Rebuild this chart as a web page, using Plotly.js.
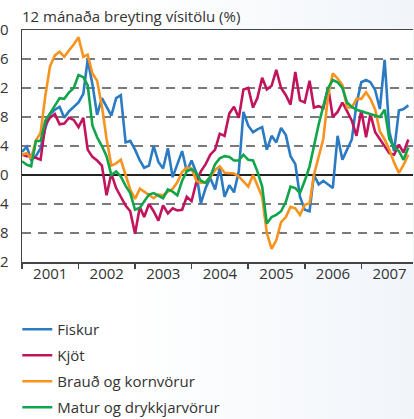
<!DOCTYPE html>
<html>
<head>
<meta charset="utf-8">
<script src="https://cdn.plot.ly/plotly-3.0.1.min.js"></script>
<style>
  html, body { margin: 0; padding: 0; overflow: hidden; }
  body { width: 414px; height: 419px; background: linear-gradient(to right, #ffffff 0%, #ffffff 30%, #f1f5fa 100%); }
  #chart { width: 414px; height: 419px; }
</style>
</head>
<body>
<div id="chart"></div>
<script>
// Monthly, Jan 2001 .. Nov 2007
const startYear = 2001;
const monthCount = 83;
const months = [];
for (let i = 0; i < monthCount; i++) {
  const y = startYear + Math.floor(i / 12);
  const m = (i % 12) + 1;
  months.push(y + '-' + (m < 10 ? '0' + m : m) + '-01');
}

const seriesNames = ['Fiskur', 'Kjöt', 'Brauð og kornvörur', 'Matur og drykkjarvörur'];

const fiskur = [
  3.2, 3.9, 2.1, 2.6, 3.7, 6.5, 8.4, 9.0, 9.4, 7.9, 8.8, 9.4,
  10.0, 11.2, 15.9, 12.5, 8.3, 10.6, 9.5, 8.2, 10.6, 11.0, 4.5, 4.7,
  3.5, 2.0, 1.0, 1.3, 4.0, 1.8, 0.9, 3.7, -0.3, 1.5, 3.3, 0.5,
  2.0, 0.3, -3.9, -1.8, -0.4, -2.0, 1.0, -3.0, -1.4, -2.4, 0.5, 8.7,
  6.8, 5.9, 6.3, 6.6, 3.5, 5.4, 4.5, 6.5, 5.5, 2.6, 1.5, -3.0,
  -4.8, -5.0, 0.0, -1.3, -0.8, -1.3, -1.8, 5.4, 2.1, 3.5, 4.9, 9.8,
  12.8, 13.1, 12.8, 11.7, 9.1, 15.9, 6.0, 3.3, 8.9, 9.1, 9.6
];

const kjot = [
  2.8, 2.6, 2.6, 2.4, 2.1, 7.0, 7.9, 8.4, 7.0, 7.1, 7.9, 7.6,
  6.6, 7.9, 3.5, 2.5, 2.0, 1.3, -2.8, 0.2, -1.8, -3.0, -4.2, -5.0,
  -8.1, -4.4, -5.8, -4.0, -5.0, -6.3, -4.2, -5.3, -4.6, -4.9, -4.8, -3.0,
  -3.6, -1.0, 0.5, 1.5, 2.8, 3.5, 5.7, 5.4, 8.5, 9.4, 7.9, 11.8,
  12.0, 9.3, 10.6, 13.4, 11.8, 12.3, 14.5, 12.0, 11.0, 9.7, 14.2, 10.3,
  10.0, 13.0, 9.3, 9.5, 9.2, 12.1, 8.0, 8.7, 10.0, 8.8, 7.5, 5.4,
  8.9, 5.2, 8.4, 5.9, 5.0, 4.0, 3.0, 2.8, 4.2, 3.1, 4.9
];

const braud = [
  2.8, 3.0, 2.3, 4.8, 5.8, 11.0, 15.0, 16.5, 17.0, 16.3, 17.2, 18.0,
  19.0, 16.3, 16.6, 14.0, 13.0, 9.5, 5.0, 1.3, 1.6, 2.1, 0.0, -2.0,
  -3.3, -1.9, -2.3, -2.7, -3.2, -2.7, -2.8, -2.3, -1.9, -1.0, 0.4, 1.0,
  0.9, -0.8, -1.1, -1.0, -0.3, 0.7, 1.2, 0.3, 0.3, 0.2, -0.2, -0.9,
  -1.6, 0.0, -1.5, -3.0, -8.0, -10.2, -9.0, -6.5, -5.8, -4.4, -4.6, -5.5,
  -4.1, -3.9, 0.0, 2.5, 5.0, 11.0, 14.0, 13.3, 12.4, 9.3, 9.3, 10.5,
  10.5, 11.4, 10.5, 9.0, 6.0, 4.9, 3.5, 1.7, 0.3, 1.4, 2.8
];

const matur = [
  1.9, 1.4, 1.2, 4.7, 4.7, 7.5, 8.5, 9.5, 10.6, 10.5, 11.4, 12.0,
  13.8, 13.5, 12.4, 6.8, 5.2, 4.0, 2.6, 0.0, 0.5, -0.2, -1.5, -2.5,
  -4.8, -4.5, -3.7, -2.7, -2.5, -2.9, -3.2, -2.0, -2.3, -2.8, -0.8, 0.5,
  0.8, 0.3, -0.8, -1.1, -0.2, 1.5, 2.3, 2.6, 2.5, 2.0, 2.0, 2.8,
  2.1, 2.0, 0.5, -1.6, -6.7, -5.8, -5.5, -5.0, -3.7, -1.6, -1.8, -2.5,
  -0.8, 1.2, 4.0, 7.0, 9.5, 12.0, 13.1, 12.8, 12.0, 10.0, 9.4, 9.0,
  8.8, 8.6, 8.4, 8.2, 8.0, 9.0, 5.0, 3.8, 3.3, 2.1, 3.8
];

const colors = ['#2b7bc2', '#c1145c', '#f7931e', '#10a44b'];
const values = [fiskur, kjot, braud, matur];

const traces = values.map((v, i) => ({
  type: 'scatter',
  mode: 'lines',
  x: months,
  y: v,
  name: seriesNames[i],
  legendgroup: 'g' + i,
  line: { color: colors[i], width: 2.6 },
  hoverinfo: 'skip'
}));

const layout = {
  width: 414,
  height: 419,
  margin: { l: 22, r: 1, t: 30, b: 157, pad: 0 },
  paper_bgcolor: 'rgba(0,0,0,0)',
  plot_bgcolor: '#ffffff',
  font: { family: '"Open Sans", sans-serif', size: 15, color: '#333333' },
  title: {
    text: '12 mánaða breyting vísitölu (%)',
    x: 0, xref: 'paper', xanchor: 'left',
    y: 1 - 17 / 419, yref: 'container', yanchor: 'middle',
    font: { family: '"Open Sans", sans-serif', size: 15, color: '#333333' }
  },
  xaxis: {
    type: 'date',
    range: ['2001-01-01', '2007-12-01'],
    tick0: '2001-01-01',
    dtick: 'M12',
    tickformat: '%Y',
    ticklabelmode: 'period',
    ticks: 'outside',
    ticklen: 5,
    tickwidth: 1.5,
    tickcolor: '#444444',
    showline: true,
    linecolor: '#444444',
    linewidth: 1.5,
    mirror: true,
    showgrid: false,
    zeroline: false,
    ticklabelstandoff: -8,
    automargin: false,
    tickfont: { size: 15, color: '#333333' }
  },
  yaxis: {
    range: [-12, 20],
    tick0: 0,
    dtick: 4,
    ticks: 'outside',
    ticklen: 9,
    tickcolor: 'rgba(0,0,0,0)',
    showline: true,
    linecolor: '#444444',
    linewidth: 1.5,
    showgrid: true,
    gridcolor: '#7a7a7a',
    gridwidth: 1.5,
    griddash: '9px,7px',
    zeroline: true,
    zerolinecolor: '#222222',
    zerolinewidth: 1.5,
    automargin: false,
    tickfont: { size: 15, color: '#333333' }
  },
  showlegend: true,
  legend: {
    x: -0.012, xanchor: 'left',
    y: 1 - 313 / 419, yref: 'container', yanchor: 'top',
    bgcolor: 'rgba(0,0,0,0)',
    borderwidth: 0,
    tracegroupgap: 3.5,
    traceorder: 'grouped',
    font: { size: 15, color: '#333333' }
  }
};

Plotly.newPlot('chart', traces, layout, { staticPlot: true, displayModeBar: false });
</script>
</body>
</html>
